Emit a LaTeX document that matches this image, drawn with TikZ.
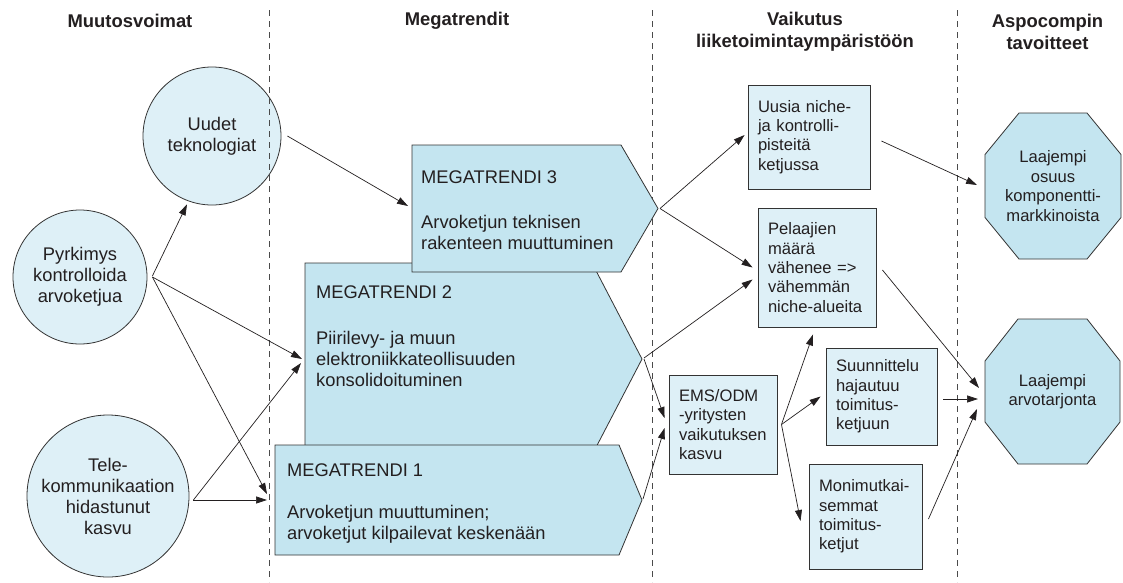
\documentclass[tikz,border=0pt]{standalone}
\usepackage{fontspec}
\setmainfont{Liberation Sans}
\usetikzlibrary{arrows.meta,calc}
\definecolor{lightfill}{HTML}{DEF0F7}
\definecolor{darkfill}{HTML}{C4E5F0}
\definecolor{edge}{HTML}{333333}
\definecolor{ink}{HTML}{231F20}
\definecolor{dashgray}{HTML}{4A4A4A}
\newcommand{\nohyphens}{\hyphenpenalty=10000\relax\exhyphenpenalty=10000\relax}
\begin{document}
\begin{tikzpicture}[x=1pt,y=-1pt,
  bigfont/.style={font=\fontsize{18.3}{21}\selectfont},
  smallfont/.style={font=\fontsize{16.6}{19.4}\selectfont\nohyphens},
  head/.style={font=\bfseries\fontsize{18.4}{22}\selectfont, align=center, text=ink, inner sep=0pt},
  force/.style={circle, draw=edge, line width=0.8pt, fill=lightfill, align=center, inner sep=0pt, text=ink, bigfont},
  effect/.style={rectangle, draw=edge, line width=0.9pt, fill=lightfill, align=left, inner xsep=10pt, inner ysep=0pt, text=ink, smallfont},
  trend/.style={draw=edge, line width=0.8pt, fill=darkfill},
  goal/.style={draw=edge, line width=0.8pt, fill=darkfill},
  trendtext/.style={anchor=west, align=left, inner sep=0pt, text=ink, bigfont},
  goaltext/.style={align=center, inner sep=0pt, text=ink, smallfont},
  arr/.style={-{Triangle[length=11pt,width=7pt]}, line width=0.7pt, draw=ink},
  divider/.style={dash pattern=on 6pt off 5pt, line width=0.8pt, draw=dashgray}
]
\fill[white] (0,0) rectangle (1123,582);
\useasboundingbox (0,0) rectangle (1123,582);

% headers
\node[head] (h1) at (130,21) {Muutosvoimat};
\node[head] (h2) at (457,21) {Megatrendit};
\node[head] (h3) at (805,32) {Vaikutus\\liiketoimintaympäristöön};
\node[head] (h4) at (1047.5,32) {Aspocompin\\tavoitteet};

% forces (circles)
\node[force, minimum size=138pt] (uudet) at (212,136) {Uudet\\teknologiat};
\node[force, minimum size=134pt] (pyrk) at (80,277) {Pyrkimys\\kontrolloida\\arvoketjua};
\node[force, minimum size=162pt] (tele) at (108,496) {Tele-\\kommunikaation\\hidastunut\\kasvu};

% dividers
\draw[divider] (269,10) -- (269,582);
\draw[divider] (652,10) -- (652,582);
\draw[divider] (957,10) -- (957,582);

% megatrends
\draw[trend] (305,263) -- (592,263) -- (642,359) -- (592,455) -- (305,455) -- cycle;
\draw[trend] (412,145) -- (621,145) -- (658,208.5) -- (621,272) -- (412,272) -- cycle;
\draw[trend] (275,445) -- (619,445) -- (642,500) -- (619,555) -- (275,555) -- cycle;
\coordinate (mt3w) at (412,208.5);
\coordinate (mt3tip) at (658,208.5);
\coordinate (mt2w) at (305,359);
\coordinate (mt2tip) at (642,359);
\coordinate (mt1w) at (275,500);
\coordinate (mt1tip) at (642,500);

\node[trendtext] (mt3title) at (421,177) {MEGATRENDI 3};
\node[trendtext] (mt3body) at (421,232.5) {Arvoketjun teknisen\\rakenteen muuttuminen};
\node[trendtext] (mt2title) at (316,292) {MEGATRENDI 2};
\node[trendtext] (mt2body) at (316,359) {Piirilevy- ja muun\\elektroniikkateollisuuden\\konsolidoituminen};
\node[trendtext] (mt1title) at (287,470) {MEGATRENDI 1};
\node[trendtext] (mt1body) at (287,524.5) {Arvoketjun muuttuminen;\\arvoketjut kilpailevat keskenään};

% effects (boxes)
\node[effect, minimum width=122pt, text width=102pt, minimum height=104pt] (uusia) at (809,137) {Uusia niche-\\ja kontrolli-\\pisteitä\\ketjussa};
\node[effect, minimum width=118pt, text width=98pt, minimum height=119pt] (pel) at (817,267.5) {Pelaajien\\määrä\\vähenee =>\\vähemmän\\niche-alueita};
\node[effect, minimum width=108pt, text width=88pt, minimum height=99pt] (ems) at (723,424.5) {EMS/ODM\\-yritysten\\vaikutuksen\\kasvu};
\node[effect, minimum width=111pt, text width=91pt, minimum height=97pt] (suunn) at (881.5,396.5) {Suunnittelu\\hajautuu\\toimitus-\\ketjuun};
\node[effect, minimum width=113pt, text width=93pt, minimum height=105pt] (monim) at (865.5,516.5) {Monimutkai-\\semmat\\toimitus-\\ketjut};

% goals (octagons)
\draw[goal, shift={(1053,186)}] (-34,-73) -- (34,-73) -- (68,-31.5) -- (68,31.5) -- (34,73) -- (-34,73) -- (-68,31.5) -- (-68,-31.5) -- cycle;
\draw[goal, shift={(1052.5,391.5)}] (-34.5,-72.5) -- (34.5,-72.5) -- (67.5,-30.5) -- (67.5,30.5) -- (34.5,72.5) -- (-34.5,72.5) -- (-67.5,30.5) -- (-67.5,-30.5) -- cycle;
\node[goaltext] (oct1) at (1053,186) {Laajempi\\osuus\\komponentti-\\markkinoista};
\node[goaltext] (oct2) at (1052.5,391.5) {Laajempi\\arvotarjonta};

% connectors
\draw[arr] ($(pyrk.east)+(5,-1)$) -- ($(uudet.248)+(1,4)$);
\draw[arr] ($(pyrk.east)+(5,0)$) -- ($(mt2w)+(-3,0)$);
\draw[arr] ($(pyrk.east)+(5,0)$) -- ($(mt1w)+(-8,-6)$);
\draw[arr] ($(tele.east)+(4,4)$) -- ($(mt2w)+(-4,4)$);
\draw[arr] ($(tele.east)+(4,4)$) -- ($(mt1w)+(-8,0)$);
\draw[arr] ($(uudet.east)+(6,0)$) -- ($(mt3w)+(-4,-2.5)$);
\draw[arr] ($(mt3tip)+(2,0)$) -- ($(uusia.west)+(-3,-2)$);
\draw[arr] ($(mt3tip)+(2,0)$) -- ($(pel.west)+(-5,0)$);
\draw[arr] ($(mt2tip)+(2,-1)$) -- ($(pel.west)+(-5,12)$);
\draw[arr] ($(mt2tip)+(2,0)$) -- ($(ems.west)+(-4,-6.5)$);
\draw[arr] ($(mt1tip)+(1,-1)$) -- ($(ems.west)+(-4,3.5)$);
\draw[arr] ($(uusia.east)+(11,4)$) -- ($(oct1)+(-76,-1)$);
\draw[arr] ($(pel.east)+(6,2.5)$) -- ($(oct2)+(-73.5,-3.5)$);
\draw[arr] ($(suunn.east)+(6,2.5)$) -- ($(oct2)+(-74.5,7.5)$);
\draw[arr] ($(monim.east)+(6,2.5)$) -- ($(oct2)+(-75.5,17.5)$);
\draw[arr] ($(ems.east)+(4,0)$) -- ($(pel.south)+(-4,7)$);
\draw[arr] ($(ems.east)+(4,0)$) -- ($(suunn.west)+(-5,0)$);
\draw[arr] ($(ems.east)+(4,0)$) -- ($(monim.west)+(-8,4.5)$);
\end{tikzpicture}
\end{document}
